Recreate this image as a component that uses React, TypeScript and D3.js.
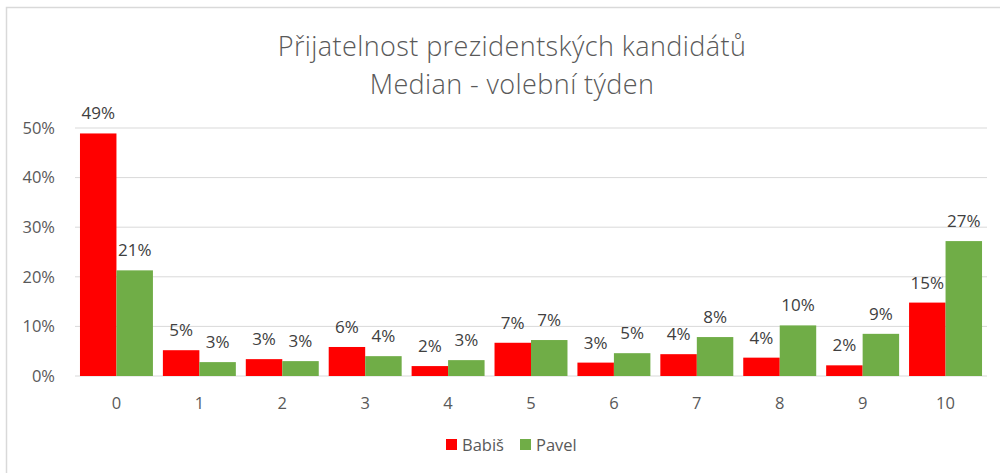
import { useEffect, useRef } from 'react';
import * as d3 from 'd3';

// Acceptability score 0..10
const categories = ['0', '1', '2', '3', '4', '5', '6', '7', '8', '9', '10'];
const seriesNames = ['Babiš', 'Pavel'];
const babisValues = [48.9, 5.2, 3.4, 5.85, 2.0, 6.7, 2.7, 4.4, 3.7, 2.15, 14.8];
const pavelValues = [21.3, 2.8, 3.0, 4.0, 3.2, 7.25, 4.6, 7.85, 10.2, 8.5, 27.2];
const babisLabels = ['49%', '5%', '3%', '6%', '2%', '7%', '3%', '4%', '4%', '2%', '15%'];
const pavelLabels = ['21%', '3%', '3%', '4%', '3%', '7%', '5%', '8%', '10%', '9%', '27%'];
const yTicks = [0, 10, 20, 30, 40, 50];
const titleLines = ['Přijatelnost prezidentských kandidátů', 'Median - volební týden'];

const colors = ['#ff0000', '#70ad47'];
const FONT = 'Open Sans, Lato, sans-serif';

export default function App() {
  const svgRef = useRef<SVGSVGElement>(null);

  useEffect(() => {
    if (!svgRef.current) return;
    const svg = d3.select(svgRef.current);
    svg.selectAll('*').remove();

    const W = 1000;
    const H = 473;
    const margin = { top: 128, right: 13, bottom: 97, left: 75 };
    const width = W - margin.left - margin.right;
    const height = H - margin.top - margin.bottom;

    svg.append('rect').attr('width', W).attr('height', H).attr('fill', '#fff');
    // chart frame (only top and left visible)
    svg.append('path').attr('d', `M6.5,${H}V7.5H${W}`).attr('fill', 'none').attr('stroke', '#d9d9d9').attr('stroke-width', 1.5);

    // title
    svg.append('g')
      .selectAll('text')
      .data(titleLines)
      .enter()
      .append('text')
      .attr('x', 512)
      .attr('y', (d, i) => 56 + i * 38)
      .attr('text-anchor', 'middle')
      .attr('font-family', FONT)
      .attr('font-weight', 300)
      .attr('font-size', '27px')
      .attr('letter-spacing', '0.4px')
      .attr('fill', '#595959')
      .text((d) => d);

    const g = svg.append('g').attr('transform', `translate(${margin.left},${margin.top})`);

    const x = d3.scaleBand().domain(categories).range([0, width]).paddingInner(0.12).paddingOuter(0.06);
    const x1 = d3.scaleBand().domain(seriesNames).range([0, x.bandwidth()]);
    const y = d3.scaleLinear().domain([0, 50]).range([height, 0]);

    // grid
    g.append('g')
      .selectAll('line')
      .data(yTicks)
      .enter()
      .append('line')
      .attr('x1', 0)
      .attr('x2', width)
      .attr('y1', (d) => y(d))
      .attr('y2', (d) => y(d))
      .attr('stroke', '#d9d9d9')
      .attr('stroke-width', 1);

    // y labels
    g.append('g')
      .selectAll('text')
      .data(yTicks)
      .enter()
      .append('text')
      .attr('x', -20)
      .attr('y', (d) => y(d))
      .attr('dy', '0.35em')
      .attr('text-anchor', 'end')
      .attr('font-family', FONT)
      .attr('font-size', '16.5px')
      .attr('fill', '#595959')
      .text((d) => `${d}%`);

    const series = [
      { name: seriesNames[0], values: babisValues, labels: babisLabels, color: colors[0] },
      { name: seriesNames[1], values: pavelValues, labels: pavelLabels, color: colors[1] },
    ];

    series.forEach((s) => {
      g.append('g')
        .selectAll('rect')
        .data(categories)
        .enter()
        .append('rect')
        .attr('x', (c) => (x(c) || 0) + (x1(s.name) || 0))
        .attr('y', (c, i) => y(s.values[i]))
        .attr('width', x1.bandwidth())
        .attr('height', (c, i) => height - y(s.values[i]))
        .attr('fill', s.color);

      g.append('g')
        .selectAll('text')
        .data(categories)
        .enter()
        .append('text')
        .attr('x', (c) => (x(c) || 0) + (x1(s.name) || 0) + x1.bandwidth() / 2)
        .attr('y', (c, i) => y(s.values[i]) - 14)
        .attr('text-anchor', 'middle')
        .attr('font-family', FONT)
        .attr('font-size', '17px')
        .attr('fill', '#404040')
        .text((c, i) => s.labels[i]);
    });

    // x labels
    g.append('g')
      .selectAll('text')
      .data(categories)
      .enter()
      .append('text')
      .attr('x', (c) => (x(c) || 0) + x.bandwidth() / 2)
      .attr('y', height + 27)
      .attr('dy', '0.35em')
      .attr('text-anchor', 'middle')
      .attr('font-family', FONT)
      .attr('font-size', '16.5px')
      .attr('fill', '#595959')
      .text((d) => d);

    // legend
    const legend = svg.append('g').attr('transform', 'translate(446,445)');
    const items = legend
      .selectAll('g')
      .data(series)
      .enter()
      .append('g')
      .attr('transform', (d, i) => `translate(${i * 74},0)`);
    items.append('rect').attr('x', 0).attr('y', -6).attr('width', 11).attr('height', 11).attr('fill', (d) => d.color);
    items
      .append('text')
      .attr('x', 16)
      .attr('y', 0)
      .attr('dy', '0.35em')
      .attr('font-family', FONT)
      .attr('font-size', '16.5px')
      .attr('fill', '#595959')
      .text((d) => d.name);
  }, []);

  return (
    <div style={{ position: 'absolute', left: 0, top: 0 }}>
      <svg ref={svgRef} width={1000} height={473} style={{ display: 'block' }} />
    </div>
  );
}
